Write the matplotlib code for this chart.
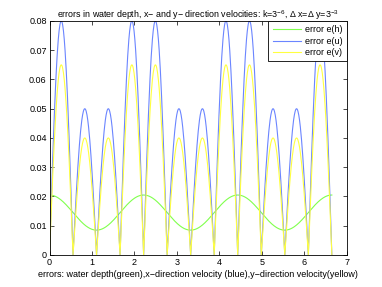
import numpy as np
import matplotlib
matplotlib.use("Agg")
import matplotlib.pyplot as plt

plt.rcParams['font.family'] = ['Liberation Sans', 'DejaVu Sans']
plt.rcParams['mathtext.fontset'] = 'custom'
plt.rcParams['mathtext.rm'] = 'Liberation Sans'
plt.rcParams['mathtext.it'] = 'Liberation Sans'

# --- data ---
# zero crossings of e(u) and e(v) (hump boundaries)
hump_edges = [0.0, 0.554, 1.108, 1.662, 2.217, 2.771, 3.325, 3.879, 4.433, 4.988, 5.542, 6.096, 6.650]
# peak height of each hump
eu_peaks = [0.080, 0.050, 0.050, 0.080, 0.080, 0.050, 0.050, 0.080, 0.080, 0.050, 0.050, 0.080]
ev_peaks = [0.065, 0.040, 0.040, 0.065, 0.065, 0.040, 0.040, 0.065, 0.065, 0.040, 0.040, 0.065]
# extrema of e(h)
eh_x = [0.0, 1.108, 2.217, 3.325, 4.433, 5.542, 6.650]
eh_y = [0.0205, 0.0085, 0.0205, 0.0085, 0.0205, 0.0085, 0.0205]

x_ticks = [0, 1, 2, 3, 4, 5, 6, 7]
y_ticks = [0, 0.01, 0.02, 0.03, 0.04, 0.05, 0.06, 0.07, 0.08]
y_ticklabels = ['0', '0.01', '0.02', '0.03', '0.04', '0.05', '0.06', '0.07', '0.08']


def humps(edges, peaks, n=60):
    xs, ys = [], []
    for i, p in enumerate(peaks):
        t = np.linspace(0, 1, n)
        xs.append(edges[i] + t * (edges[i + 1] - edges[i]))
        ys.append(p * np.sin(np.pi * t))
    return np.concatenate(xs), np.concatenate(ys)


def waves(xe, ye, n=80):
    xs, ys = [], []
    for i in range(len(xe) - 1):
        t = np.linspace(0, 1, n)
        xs.append(xe[i] + t * (xe[i + 1] - xe[i]))
        ys.append(ye[i] + (ye[i + 1] - ye[i]) * (1 - np.cos(np.pi * t)) / 2)
    return np.concatenate(xs), np.concatenate(ys)


fig = plt.figure(figsize=(3.82, 2.87), dpi=100)
ax = fig.add_axes([0.1296, 0.1115, 0.778, 0.8155])

green = (0.5, 1.0, 0.3)
blue = (0.42, 0.52, 1.0)
yellow = (1.0, 1.0, 0.25)

hx, hy = waves(eh_x, eh_y)
ux, uy = humps(hump_edges, eu_peaks)
vx, vy = humps(hump_edges, ev_peaks)
ax.plot(hx, hy, color=green, lw=0.8, label='error e(h)')
ax.plot(ux, uy, color=blue, lw=0.8, label='error e(u)')
ax.plot(vx, vy, color=yellow, lw=0.8, label='error e(v)')

ax.set_xlim(0, 7)
ax.set_ylim(0, 0.08)
ax.set_xticks(x_ticks)
ax.set_yticks(y_ticks)
ax.set_yticklabels(y_ticklabels)
ax.tick_params(direction='in', length=3, width=0.5, labelsize=6.5, top=True, right=True, pad=2)
for s in ax.spines.values():
    s.set_linewidth(0.6)

ax.set_title('errors in water depth, x\u2212 and y\u2212 direction velocities: k=3$^{-6}$, \u0394 x=\u0394 y=3$^{-3}$',
             fontsize=6.4, pad=2)
ax.set_xlabel('errors: water depth(green),x\u2212direction velocity (blue),y\u2212direction velocity(yellow)',
              fontsize=6.5, labelpad=2)

leg = ax.legend(loc='upper right', bbox_to_anchor=(1, 1), borderaxespad=0, fontsize=6.5,
                fancybox=False, framealpha=1, edgecolor='black', handlelength=3.2,
                handletextpad=0.4, labelspacing=0.3, borderpad=0.45)
leg.get_frame().set_linewidth(0.6)

fig.savefig('out.png', dpi=100)
